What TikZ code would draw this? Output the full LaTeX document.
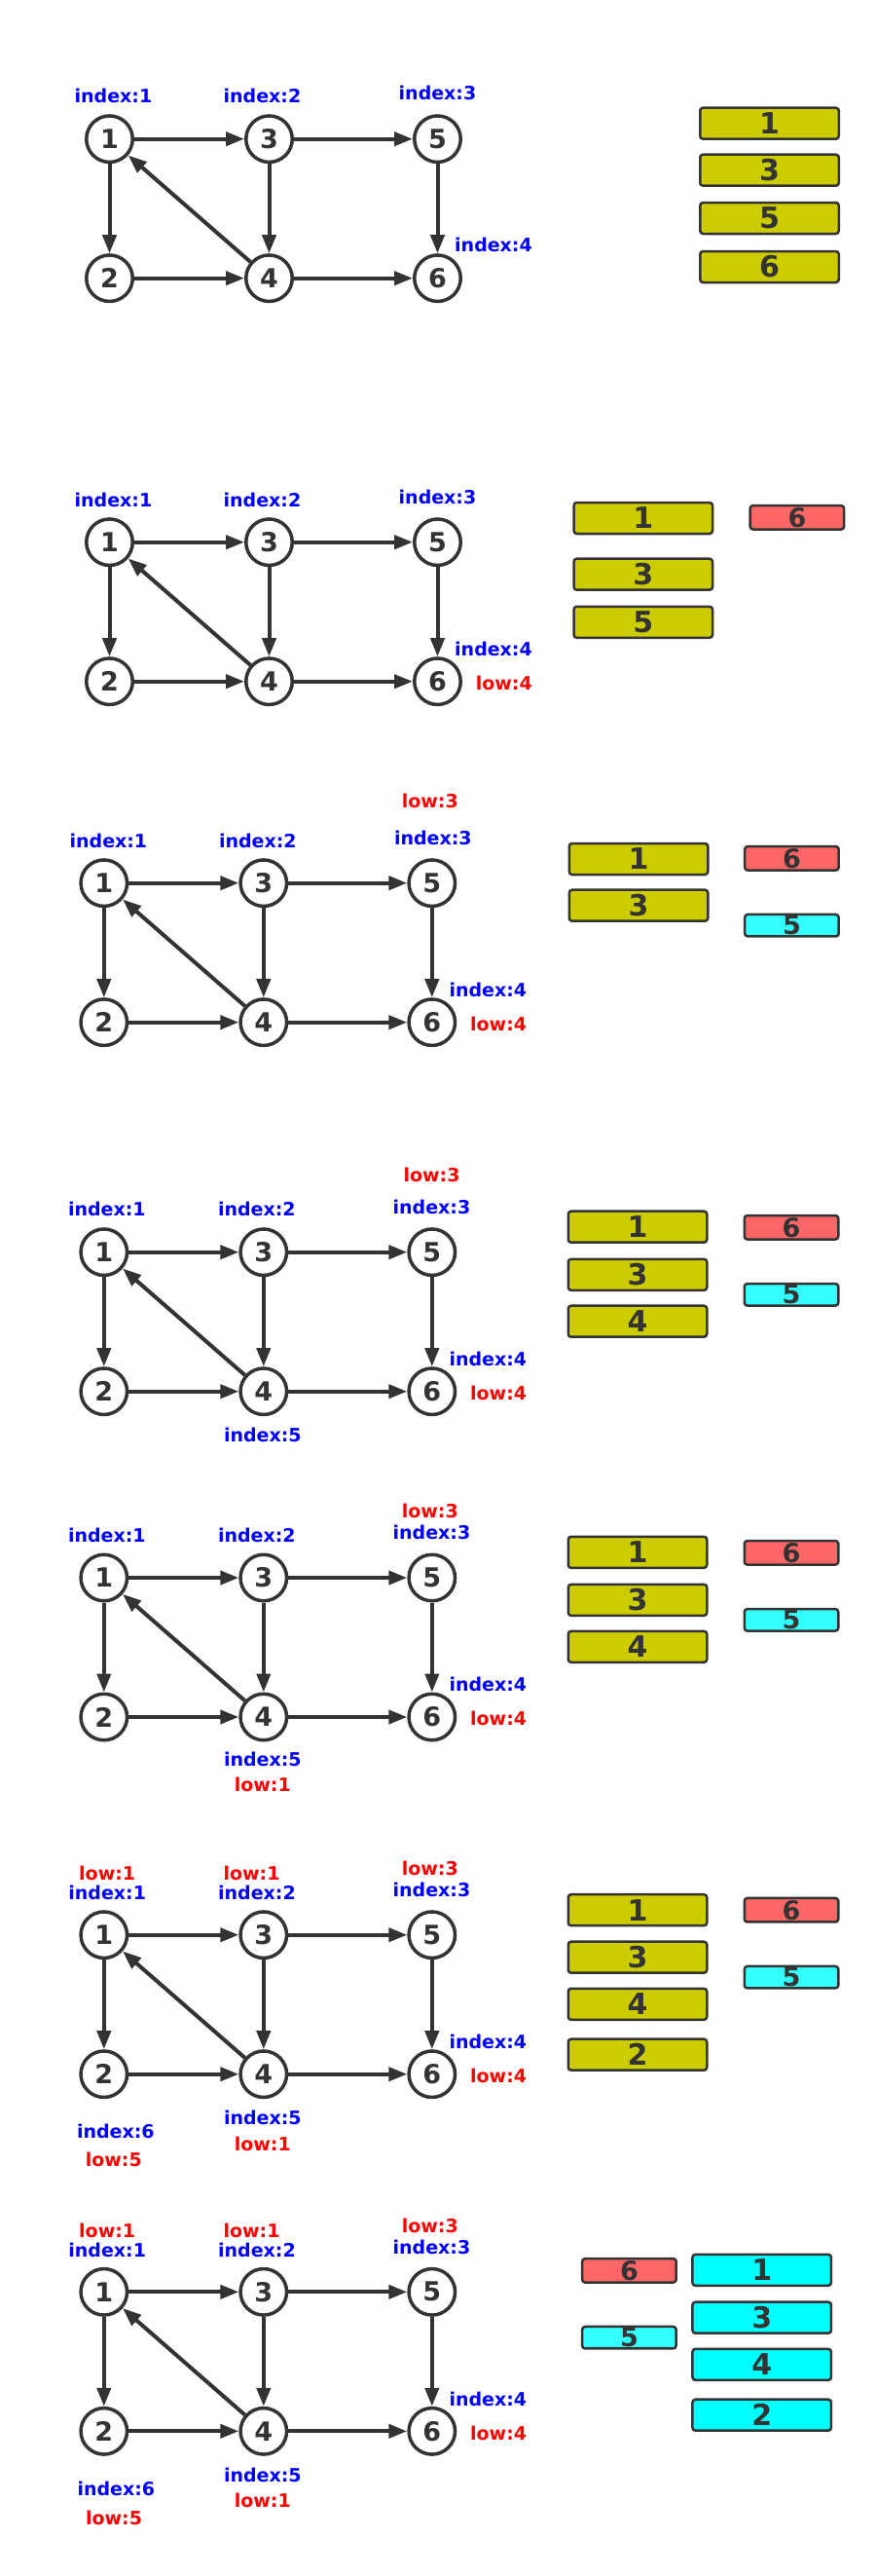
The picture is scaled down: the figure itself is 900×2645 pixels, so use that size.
\documentclass[tikz,border=0pt]{standalone}
\usepackage{fontspec}
\setmainfont{DejaVu Sans}
\usetikzlibrary{arrows.meta}
\definecolor{darkline}{HTML}{333333}
\definecolor{idxblue}{HTML}{0000FF}
\definecolor{lowred}{HTML}{FF0000}
\definecolor{stackyellow}{HTML}{CCCC00}
\definecolor{rootred}{HTML}{FF6666}
\definecolor{sccyan}{HTML}{00FFFF}
\definecolor{popcyan}{HTML}{33FFFF}
\tikzset{
vertex/.style={draw=darkline, circle, line width=3.5pt, fill=white,
    minimum size=47.5pt, inner sep=0pt, text=darkline,
    font=\fontsize{27}{27}\selectfont\bfseries},
link/.style={draw=darkline, line width=4pt,
    -{Triangle[length=19pt,width=14pt]}},
idxlbl/.style={text=idxblue, inner sep=0pt,
    font=\fontsize{19}{19}\selectfont\bfseries},
lowlbl/.style={idxlbl, text=lowred},
stackbox/.style={draw=darkline, line width=2.5pt, rounded corners=3pt,
    fill=stackyellow, minimum width=142.5pt, minimum height=32pt,
    inner sep=0pt, text=darkline, font=\fontsize{30}{30}\selectfont\bfseries},
tinybox/.style={stackbox, minimum width=96.5pt, minimum height=24.5pt,
    font=\fontsize{27}{27}\selectfont\bfseries}
}
% the six vertices and their edges, origin at vertex 1
\newcommand{\tarjangraph}[1]{
  \node[vertex] (#1v1) at (0,0) {1};
  \node[vertex] (#1v3) at (164,0) {3};
  \node[vertex] (#1v5) at (337,0) {5};
  \node[vertex] (#1v2) at (0,143) {2};
  \node[vertex] (#1v4) at (164,143) {4};
  \node[vertex] (#1v6) at (337,143) {6};
  \draw[link] (#1v1) -- (#1v3);
  \draw[link] (#1v3) -- (#1v5);
  \draw[link] (#1v1) -- (#1v2);
  \draw[link] (#1v3) -- (#1v4);
  \draw[link] (#1v5) -- (#1v6);
  \draw[link] (#1v2) -- (#1v4);
  \draw[link] (#1v4) -- (#1v6);
  \draw[link] (#1v4) -- (#1v1);
}

\begin{document}
\begin{tikzpicture}[x=1pt, y=-1pt]
\useasboundingbox (0,0) rectangle (900,2645);

% step 1
\begin{scope}[shift={(112.5,142.7)}]
  \tarjangraph{ga}
  \node[idxlbl] (gai1) at (4,-44.4) {index:1};
  \node[idxlbl] (gai2) at (157,-44.4) {index:2};
  \node[idxlbl] (gai3) at (337,-47.7) {index:3};
  \node[idxlbl, anchor=east] (gai4) at (434.5,109) {index:4};
\end{scope}
\node[stackbox] (gas1) at (790.5,126.7) {1};
\node[stackbox] (gas3) at (790.5,174.7) {3};
\node[stackbox] (gas5) at (790.5,224) {5};
\node[stackbox] (gas6) at (790.5,274) {6};

% step 2
\begin{scope}[shift={(112.5,556.7)}]
  \tarjangraph{gb}
  \node[idxlbl] (gbi1) at (4,-43.4) {index:1};
  \node[idxlbl] (gbi2) at (157,-43.4) {index:2};
  \node[idxlbl] (gbi3) at (337,-46.7) {index:3};
  \node[idxlbl, anchor=east] (gbi4) at (434.5,110) {index:4};
  \node[lowlbl, anchor=east] (gbl4) at (434.5,145) {low:4};
\end{scope}
\node[stackbox] (gbs1) at (660.8,532) {1};
\node[stackbox] (gbs3) at (660.8,589.7) {3};
\node[stackbox] (gbs5) at (660.8,638.8) {5};
\node[tinybox, fill=rootred] (gbr6) at (818.9,531.3) {6};

% step 3
\begin{scope}[shift={(106.8,906.7)}]
  \tarjangraph{gc}
  \node[idxlbl] (gci1) at (4.6,-43.4) {index:1};
  \node[idxlbl] (gci2) at (158,-43.4) {index:2};
  \node[idxlbl] (gci3) at (338,-46) {index:3};
  \node[lowlbl] (gcl3) at (335,-84) {low:3};
  \node[idxlbl, anchor=east] (gci4) at (434.5,110) {index:4};
  \node[lowlbl, anchor=east] (gcl4) at (434.5,145) {low:4};
\end{scope}
\node[stackbox] (gcs1) at (656,882) {1};
\node[stackbox] (gcs3) at (656,929.7) {3};
\node[tinybox, fill=rootred] (gcr6) at (813.4,881.3) {6};
\node[tinybox, fill=popcyan, minimum height=22.5pt] (gcr5) at (813.4,950.2) {5};

% step 4
\begin{scope}[shift={(106.8,1285.7)}]
  \tarjangraph{gd}
  \node[idxlbl] (gdi1) at (3,-44) {index:1};
  \node[idxlbl] (gdi2) at (157,-44) {index:2};
  \node[idxlbl] (gdi3) at (336.7,-46.4) {index:3};
  \node[lowlbl] (gdl3) at (336.7,-79.7) {low:3};
  \node[idxlbl, anchor=east] (gdi4) at (434.5,109.3) {index:4};
  \node[lowlbl, anchor=east] (gdl4) at (434.5,144.3) {low:4};
  \node[idxlbl] (gdi5) at (163,187.6) {index:5};
\end{scope}
\node[stackbox] (gds1) at (655,1259.7) {1};
\node[stackbox] (gds3) at (655,1308.8) {3};
\node[stackbox] (gds4) at (655,1356.7) {4};
\node[tinybox, fill=rootred] (gdr6) at (813,1260.3) {6};
\node[tinybox, fill=popcyan, minimum height=22.5pt] (gdr5) at (813,1329.3) {5};

% step 5
\begin{scope}[shift={(106.8,1620)}]
  \tarjangraph{ge}
  \node[idxlbl] (gei1) at (3,-43.3) {index:1};
  \node[idxlbl] (gei2) at (157,-43.3) {index:2};
  \node[idxlbl] (gei3) at (336.7,-46.7) {index:3};
  \node[lowlbl] (gel3) at (335,-68.3) {low:3};
  \node[idxlbl, anchor=east] (gei4) at (434.5,109.3) {index:4};
  \node[lowlbl, anchor=east] (gel4) at (434.5,144.3) {low:4};
  \node[idxlbl] (gei5) at (163,186.7) {index:5};
  \node[lowlbl] (gel5) at (163,212.7) {low:1};
\end{scope}
\node[stackbox] (ges1) at (655,1593.8) {1};
\node[stackbox] (ges3) at (655,1642.8) {3};
\node[stackbox] (ges4) at (655,1690.8) {4};
\node[tinybox, fill=rootred] (ger6) at (813,1594.3) {6};
\node[tinybox, fill=popcyan, minimum height=22.5pt] (ger5) at (813,1663.3) {5};

% step 6
\begin{scope}[shift={(106.8,1986.7)}]
  \tarjangraph{gf}
  \node[lowlbl] (gfl1) at (3.4,-63.4) {low:1};
  \node[idxlbl] (gfi1) at (3.4,-43.4) {index:1};
  \node[lowlbl] (gfl2) at (151.7,-63.4) {low:1};
  \node[idxlbl] (gfi2) at (157.2,-43.4) {index:2};
  \node[lowlbl] (gfl3) at (335,-68.4) {low:3};
  \node[idxlbl] (gfi3) at (336.7,-46.7) {index:3};
  \node[idxlbl, anchor=east] (gfi4) at (434.5,109.3) {index:4};
  \node[lowlbl, anchor=east] (gfl4) at (434.5,144.3) {low:4};
  \node[idxlbl] (gfi5) at (163,187.3) {index:5};
  \node[lowlbl] (gfl5) at (163,214.3) {low:1};
  \node[idxlbl] (gfi6) at (12,201.6) {index:6};
  \node[lowlbl] (gfl6) at (10,231) {low:5};
\end{scope}
\node[stackbox] (gfs1) at (655,1961.2) {1};
\node[stackbox] (gfs3) at (655,2009.7) {3};
\node[stackbox] (gfs4) at (655,2057.8) {4};
\node[stackbox] (gfs2) at (655,2109.7) {2};
\node[tinybox, fill=rootred] (gfr6) at (813,1961.2) {6};
\node[tinybox, fill=popcyan, minimum height=22.5pt] (gfr5) at (813,2030.2) {5};

% step 7
\begin{scope}[shift={(106.8,2353.3)}]
  \tarjangraph{gg}
  \node[lowlbl] (ggl1) at (3.4,-63.3) {low:1};
  \node[idxlbl] (ggi1) at (3.4,-43.3) {index:1};
  \node[lowlbl] (ggl2) at (151.7,-63.3) {low:1};
  \node[idxlbl] (ggi2) at (157.2,-43.3) {index:2};
  \node[lowlbl] (ggl3) at (335,-68.3) {low:3};
  \node[idxlbl] (ggi3) at (336.7,-46) {index:3};
  \node[idxlbl, anchor=east] (ggi4) at (434.5,110) {index:4};
  \node[lowlbl, anchor=east] (ggl4) at (434.5,145) {low:4};
  \node[idxlbl] (ggi5) at (163,187.7) {index:5};
  \node[lowlbl] (ggl5) at (163,214.4) {low:1};
  \node[idxlbl] (ggi6) at (12.5,201.7) {index:6};
  \node[lowlbl] (ggl6) at (10.2,231.7) {low:5};
\end{scope}
\node[tinybox, fill=rootred] (ggr6) at (646.4,2331.3) {6};
\node[tinybox, fill=popcyan, minimum height=22.5pt] (ggr5) at (646.4,2400.2) {5};
\node[stackbox, fill=sccyan] (ggs1) at (782.7,2330.8) {1};
\node[stackbox, fill=sccyan] (ggs3) at (782.7,2379.7) {3};
\node[stackbox, fill=sccyan] (ggs4) at (782.7,2427.8) {4};
\node[stackbox, fill=sccyan] (ggs2) at (782.7,2479.7) {2};
\end{tikzpicture}
\end{document}
